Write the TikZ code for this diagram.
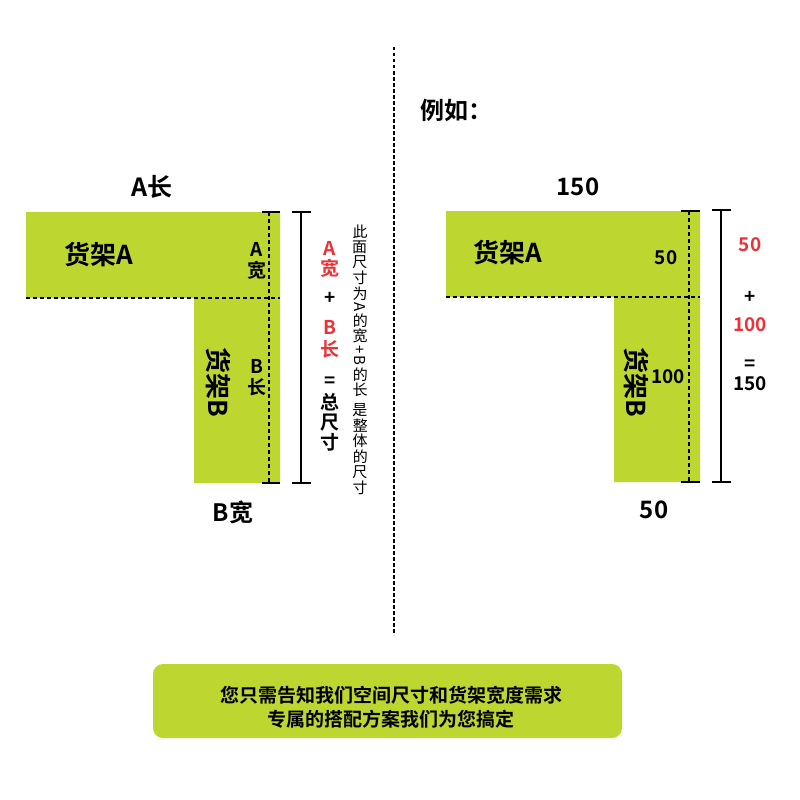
\documentclass[tikz,border=0pt]{standalone}
\usepackage{fontspec}
\setmainfont{Noto Sans CJK SC}[BoldFont={Noto Sans CJK SC Bold}]
\usepackage{graphicx}
\definecolor{shelf}{RGB}{190,214,48}
\definecolor{redtxt}{RGB}{236,50,55}
\newcommand{\vch}[1]{\rotatebox[origin=c]{90}{#1}}
\newcommand{\vgap}{\kern2pt}
\begin{document}
\begin{tikzpicture}[x=1pt,y=-1pt,
  dimline/.style={line width=1.4pt, black},
  dshline/.style={line width=1.4pt, black, dash pattern=on 4pt off 3pt},
  divline/.style={line width=1.5pt, black, dash pattern=on 3.5pt off 2.5pt},
  big/.style={font=\bfseries\fontsize{26}{28}\selectfont, inner sep=0pt},
  title/.style={font=\bfseries\fontsize{24}{26}\selectfont, inner sep=0pt},
  mid/.style={font=\bfseries\fontsize{19}{20}\selectfont, inner sep=0pt, align=center},
  num/.style={font=\bfseries\fontsize{19}{20}\selectfont, inner sep=0pt},
  hl/.style={text=redtxt}]
\useasboundingbox[fill=white] (0,0) rectangle (800,800);

% divider
\coordinate (dtop) at (394,47);
\coordinate (dbot) at (394,635);
\draw[divline] (dtop) -- (dbot);

% ---------- left shelves ----------
\fill[shelf] (26,212) -- (280,212) -- (280,483) -- (194,483) -- (194,298) -- (26,298) -- cycle;
\coordinate (lh1) at (26,298); \coordinate (lh2) at (280,298);
\draw[dshline] (lh1) -- (lh2);
\coordinate (lv1) at (269,212); \coordinate (lv2) at (269,483);
\draw[dshline] (lv1) -- (lv2);
\draw[dimline] (262,212) -- (280,212);
\draw[dimline] (262,483) -- (280,483);
\coordinate (ls1) at (301,212); \coordinate (ls2) at (301,483);
\draw[dimline] (ls1) -- (ls2);
\draw[dimline] (292,212) -- (311,212);
\draw[dimline] (292,483) -- (311,483);

\node[title, font=\bfseries\fontsize{25}{27}\selectfont] (alen) at (152,187) {A长};
\node[big] (shelfA) at (99,255) {货架A};
\node[mid, font=\bfseries\fontsize{19}{21}\selectfont] (awid) at (257,261) {A\\宽};
\node[mid, font=\bfseries\fontsize{19}{21}\selectfont] (blen) at (257,378) {B\\长};
\node[big, rotate=-90] (shelfB) at (218,382) {货架B};
\node[title] (bwid) at (233,512) {B宽};

\node[mid, hl, font=\bfseries\fontsize{19}{20}\selectfont] (ra) at (330,259) {A\\宽};
\node[mid] (rplus) at (330,298) {+};
\node[mid, hl, font=\bfseries\fontsize{19}{22}\selectfont] (rb) at (330,339) {B\\长};
\node[mid] (req) at (330,382) {=};
\node[mid, font=\bfseries\fontsize{19}{20}\selectfont] (rtot) at (330,422) {总\\尺\\寸};

\node[font=\fontsize{15}{15}\selectfont, inner sep=0pt, rotate=-90] (note) at (360,360)
 {\vch{此}\vgap\vch{面}\vgap\vch{尺}\vgap\vch{寸}\vgap\vch{为}\vgap A\vgap\vch{的}\vgap\vch{宽}\vgap+\vgap B\vgap\vch{的}\vgap\vch{长}\kern7pt\vch{是}\vgap\vch{整}\vgap\vch{体}\vgap\vch{的}\vgap\vch{尺}\vgap\vch{寸}};

% ---------- right example ----------
\node[title, anchor=west] (eg) at (420,110) {例如：};
\fill[shelf] (446,211) -- (700,211) -- (700,482) -- (614,482) -- (614,297) -- (446,297) -- cycle;
\coordinate (rh1) at (446,297); \coordinate (rh2) at (700,297);
\draw[dshline] (rh1) -- (rh2);
\coordinate (rv1) at (689,211); \coordinate (rv2) at (689,482);
\draw[dshline] (rv1) -- (rv2);
\draw[dimline] (681,211) -- (700,211);
\draw[dimline] (681,482) -- (700,482);
\coordinate (rs1) at (721,210); \coordinate (rs2) at (721,482);
\draw[dimline] (rs1) -- (rs2);
\draw[dimline] (712,210) -- (731,210);
\draw[dimline] (712,482) -- (731,482);

\node[title] (e150) at (578,187) {150};
\node[big] (eshelfA) at (508,253) {货架A};
\node[num] (e50in) at (666,258) {50};
\node[num] (e100in) at (668,377) {100};
\node[big, rotate=-90] (eshelfB) at (636,382) {货架B};
\node[title] (e50) at (654,510) {50};

\node[num, hl] (c50) at (750,245) {50};
\node[num] (cplus) at (750,297) {+};
\node[num, hl] (c100) at (750,325) {100};
\node[num] (ceq) at (750,365) {=};
\node[num] (c150) at (750,384) {150};

% ---------- bottom banner ----------
\node[fill=shelf, rounded corners=10pt, minimum width=469pt, minimum height=74pt, inner sep=0pt] (banner) at (387.5,701) {};
\node[font=\bfseries\fontsize{19}{23.5}\selectfont, align=center, inner sep=0pt] (bannertxt) at (391,707)
 {您只需告知我们空间尺寸和货架宽度需求\\专属的搭配方案我们为您搞定};
\end{tikzpicture}
\end{document}
